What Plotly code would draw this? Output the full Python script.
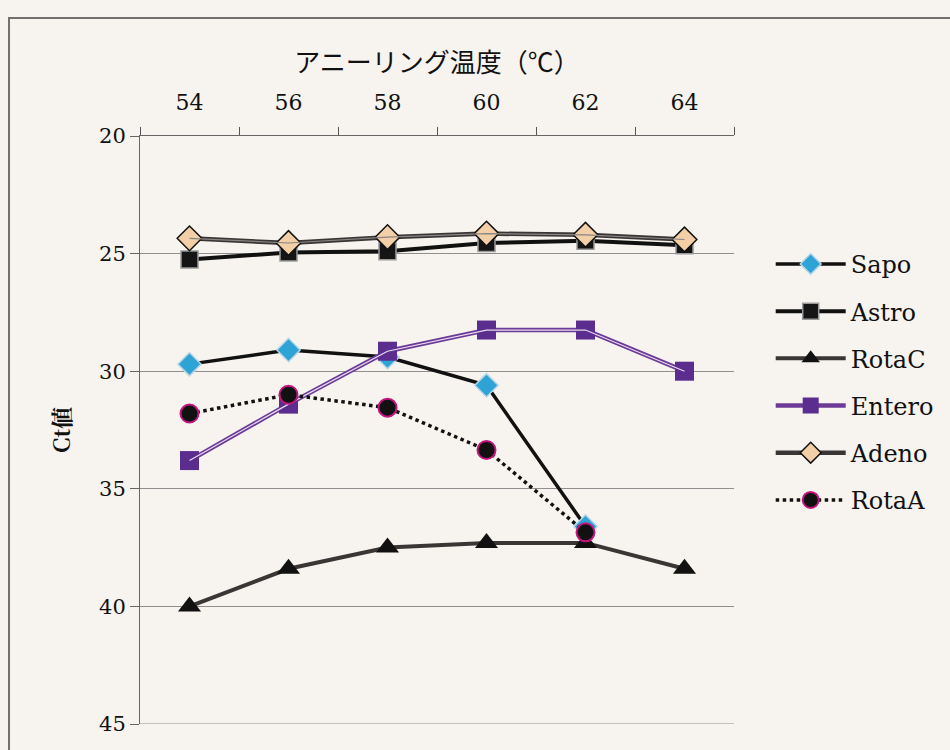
import plotly.graph_objects as go

temps = ["54", "56", "58", "60", "62", "64"]
sapo = [29.7, 29.1, 29.4, 30.6, 36.6, None]
astro = [25.25, 24.95, 24.9, 24.55, 24.45, 24.65]
rotac = [40.0, 38.4, 37.5, 37.3, 37.3, 38.4]
entero = [33.8, 31.4, 29.15, 28.25, 28.25, 30.0]
adeno = [24.35, 24.55, 24.3, 24.15, 24.2, 24.4]
rotaa = [31.8, 31.0, 31.55, 33.35, 36.85, None]

xtitle = "アニーリング温度（℃）"
ytitle = "Ct値"
yticks = [20, 25, 30, 35, 40, 45]

serif = "DejaVu Serif, Liberation Serif, serif"
fig = go.Figure()

def grp(name):
    return dict(legendgroup=name, name=name)

fig.add_trace(go.Scatter(x=temps, y=sapo, mode="lines+markers", **grp("Sapo"),
    line=dict(color="#111111", width=3.5),
    marker=dict(symbol="diamond", size=18, color="#2ea3d5", line=dict(color="#b8d6e6", width=1.5))))
fig.add_trace(go.Scatter(x=temps, y=astro, mode="lines+markers", **grp("Astro"),
    line=dict(color="#111111", width=4),
    marker=dict(symbol="square", size=17, color="#151515", line=dict(color="#9a9a9a", width=1.5))))
fig.add_trace(go.Scatter(x=temps, y=rotac, mode="lines+markers", **grp("RotaC"),
    line=dict(color="#3a3636", width=4),
    marker=dict(symbol="triangle-up", size=20, color="#111111", line=dict(color="#111111", width=0))))
fig.add_trace(go.Scatter(x=temps, y=entero, mode="lines+markers", **grp("Entero"),
    line=dict(color="#6a3a96", width=4.5),
    marker=dict(symbol="square", size=19, color="#5b2d8e", line=dict(color="#5b2d8e", width=0))))
fig.add_trace(go.Scatter(x=temps, y=entero, mode="lines", legendgroup="Entero", showlegend=False,
    line=dict(color="#e8dcef", width=1.2), hoverinfo="skip"))
fig.add_trace(go.Scatter(x=temps, y=adeno, mode="lines+markers", **grp("Adeno"),
    line=dict(color="#3a3636", width=4.5),
    marker=dict(symbol="diamond", size=19, color="#f2cfa6", line=dict(color="#111111", width=1.5))))
fig.add_trace(go.Scatter(x=temps, y=adeno, mode="lines", legendgroup="Adeno", showlegend=False,
    line=dict(color="#8a8585", width=1.2), hoverinfo="skip"))
fig.add_trace(go.Scatter(x=temps, y=rotaa, mode="lines+markers", **grp("RotaA"),
    line=dict(color="#111111", width=3.5, dash="dot"),
    marker=dict(symbol="circle", size=18, color="#111111", line=dict(color="#c2167e", width=2))))

fig.update_layout(
    width=950, height=750,
    margin=dict(l=140, r=215, t=136, b=26),
    paper_bgcolor="#f7f4ef", plot_bgcolor="#f7f4ef",
    showlegend=True,
    legend=dict(x=1.06, y=0.82, xanchor="left", yanchor="top",
                font=dict(family=serif, size=24, color="#111111"),
                bgcolor="rgba(0,0,0,0)", tracegroupgap=13, itemwidth=70),
    xaxis=dict(type="category", side="top", categoryorder="array", categoryarray=temps,
               tickson="boundaries", ticks="outside", ticklen=8, tickcolor="#555555",
               ticklabelstandoff=16,
               showline=True, linecolor="#666666", linewidth=1, showgrid=False,
               tickfont=dict(family=serif, size=22, color="#111111"),
               title=dict(text=xtitle, font=dict(family="Noto Sans CJK JP", size=26, color="#111111"), standoff=10),
               range=[-0.5, 5.5]),
    yaxis=dict(range=[45, 20], tickvals=yticks, ticks="outside", ticklen=9, tickcolor="#666666",
               showline=True, linecolor="#666666", linewidth=1,
               showgrid=True, gridcolor="#8f8f8f", gridwidth=1, zeroline=False,
               tickfont=dict(family=serif, size=21, color="#111111"),
               title=dict(text="<b>" + ytitle + "</b>", font=dict(family="Noto Serif CJK JP, Noto Sans CJK JP", size=22, color="#111111"), standoff=22)),
)

fig.add_shape(type="line", xref="paper", yref="y", x0=0, x1=1, y0=yticks[-1], y1=yticks[-1],
              line=dict(color="#8f8f8f", width=1), layer="below")
fig.add_shape(type="rect", xref="paper", yref="paper", x0=-0.2205, x1=1.4, y0=-0.07, y1=1.2007,
              line=dict(color="#707070", width=2), fillcolor="rgba(0,0,0,0)", layer="below")

fig.write_html("out.html")
